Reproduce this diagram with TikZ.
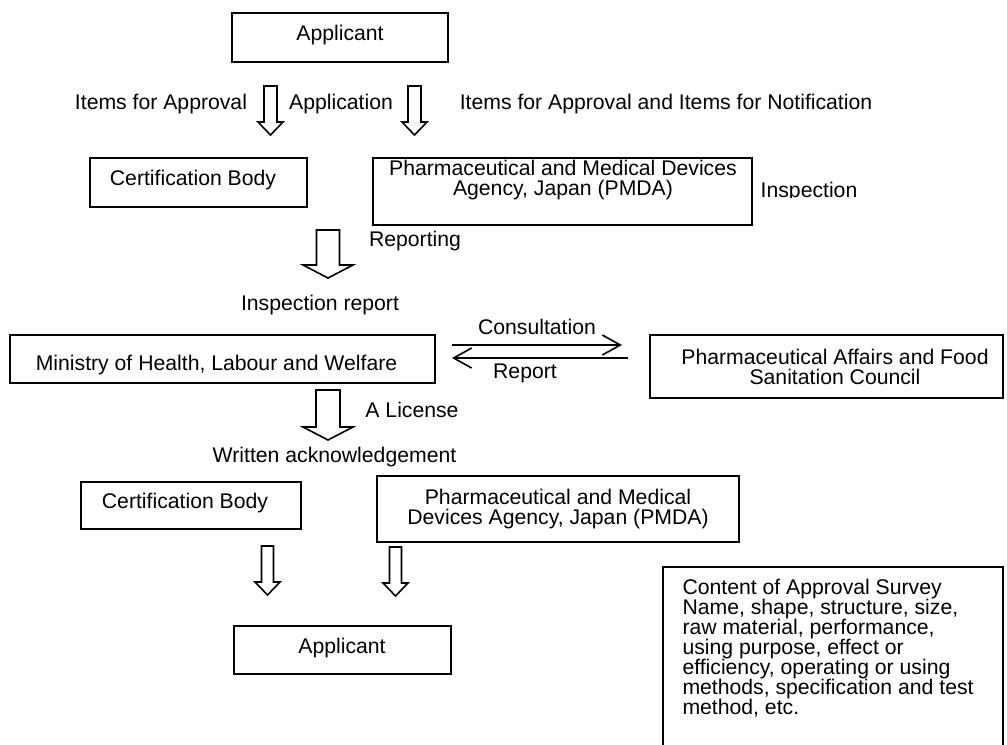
\documentclass[tikz,border=0pt]{standalone}
\usepackage{fontspec}
\setmainfont{Liberation Sans}
\usetikzlibrary{arrows.meta,fit}

\tikzset{every picture/.style={line width=0.75pt}}
\tikzset{
  box/.style={draw, line width=1.2pt, inner sep=0pt},
  lbl/.style={inner sep=0pt, align=center},
  flow/.style={line width=1.2pt, -{Straight Barb[length=13.5pt,width=15pt]}},
  pics/downarrow/.style n args={4}{code={
    \draw[line width=1.2pt] (-#1,0) -- (-#1,#4-#3) -- (-#2,#4-#3) -- (0,-#3) -- (#2,#4-#3) -- (#1,#4-#3) -- (#1,0) -- cycle ;
  }}
}

\begin{document}
\begin{tikzpicture}[x=0.75pt,y=0.75pt,yscale=-1,xscale=1,font=\fontsize{15.9}{15}\selectfont]
	\useasboundingbox (0,0) rectangle (1007,744);

	%Shape: Rectangle [applicant, top]
	\node[box, fit={(232,13) (448,62)}] (applicantTop) {};
	%Shape: Rectangle [certification body, top]
	\node[box, fit={(90,158) (307,207)}] (certTop) {};
	%Shape: Rectangle [PMDA, top]
	\node[box, fit={(373,158) (752,225)}] (pmdaTop) {};
	%Shape: Rectangle [ministry]
	\node[box, fit={(10,335) (435,383)}] (ministry) {};
	%Shape: Rectangle [council]
	\node[box, fit={(650,335) (1003,398)}] (council) {};
	%Shape: Rectangle [certification body, bottom]
	\node[box, fit={(81,482) (301,529)}] (certBottom) {};
	%Shape: Rectangle [PMDA, bottom]
	\node[box, fit={(377,476) (739,542)}] (pmdaBottom) {};
	%Shape: Rectangle [applicant, bottom]
	\node[box, fit={(234,626) (451,674)}] (applicantBottom) {};
	%Shape: Open Box [survey content]
	\draw[line width=1.2pt] (663,746) -- (663,567) -- (1003,567) -- (1003,746) ;

	%Shape: Down Arrow
	\pic at (270.5,86) {downarrow={6.5}{12.5}{49}{13}};
	%Shape: Down Arrow
	\pic at (414.5,86) {downarrow={6.5}{12.5}{49}{13}};
	%Shape: Down Arrow
	\pic at (328,230) {downarrow={11.5}{25}{48}{13}};
	%Shape: Down Arrow
	\pic at (328,390) {downarrow={12}{25}{50}{13}};
	%Shape: Down Arrow
	\pic at (267.5,546) {downarrow={6}{12.5}{49}{13}};
	%Shape: Down Arrow
	\pic at (395.5,547) {downarrow={6}{12.5}{49}{13}};

	%Straight Lines [consultation / report]
	\coordinate (conL) at (452,345);
	\coordinate (conR) at (622,345);
	\coordinate (repR) at (628,358);
	\coordinate (repL) at (452,358);
	\draw[flow] (conL) -- (conR) ;
	\draw[flow] (repR) -- (repL) ;

	% Text Node
	\node[lbl] (tApplicantTop) at (340,35) {Applicant};
	% Text Node
	\node[lbl] (tItemsApproval) at (161,104) {Items for Approval};
	% Text Node
	\node[lbl] (tApplication) at (341,104) {Application};
	% Text Node
	\node[lbl] (tItemsBoth) at (666,104) {Items for Approval and Items for Notification};
	% Text Node
	\node[lbl] (tCertTop) at (193,180) {Certification Body};
	% Text Node
	\node[lbl] (tPmdaTop) at (563,180) {Pharmaceutical and Medical Devices\\Agency, Japan (PMDA)};
	% Text Node
	\begin{scope}
	\clip (750,170) rectangle (880,197);
	\node[lbl, anchor=base] (tInspection) at (809,197) {Inspection};
	\end{scope}
	% Text Node
	\node[lbl] (tReporting) at (415,241) {Reporting};
	% Text Node
	\node[lbl] (tInspReport) at (320,305) {Inspection report};
	% Text Node
	\node[lbl] (tConsultation) at (537,327) {Consultation};
	% Text Node
	\node[lbl] (tReport) at (525,373) {Report};
	% Text Node
	\node[lbl] (tMinistry) at (216.5,365) {Ministry of Health, Labour and Welfare};
	% Text Node
	\node[lbl] (tCouncil) at (835,367) {Pharmaceutical Affairs and Food\\Sanitation Council};
	% Text Node
	\node[lbl] (tLicense) at (412,410) {A License};
	% Text Node
	\node[lbl] (tWritten) at (334.5,457) {Written acknowledgement};
	% Text Node
	\node[lbl] (tCertBottom) at (185,503) {Certification Body};
	% Text Node
	\node[lbl] (tPmdaBottom) at (558,509) {Pharmaceutical and Medical\\Devices Agency, Japan (PMDA)};
	% Text Node
	\node[lbl] (tApplicantBottom) at (342,648) {Applicant};
	% Text Node
	\node[lbl, anchor=north west, align=left] (tSurvey) at (682,579) {Content of Approval Survey\\Name, shape, structure, size,\\raw material, performance,\\using purpose, effect or\\efficiency, operating or using\\methods, specification and test\\method, etc.};

\end{tikzpicture}
\end{document}
